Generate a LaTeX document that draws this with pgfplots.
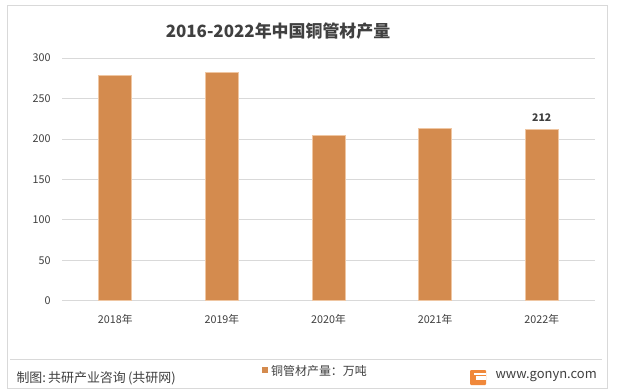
\documentclass[border=0pt]{standalone}
\usepackage{fontspec}
\setmainfont{Noto Sans CJK SC}
\usepackage{pgfplots}
\pgfplotsset{compat=1.18}
\definecolor{barc}{HTML}{D48B4E}
\definecolor{bare}{HTML}{EFC6A2}
\definecolor{gridc}{HTML}{D9D9D9}
\definecolor{txt}{HTML}{404040}
\definecolor{logoc}{HTML}{F0883A}
\begin{document}
\begin{tikzpicture}[x=1bp,y=1bp]
\path[fill=white] (0,0) rectangle (619,391);
\draw[gridc, line width=0.8bp] (7,3) rectangle (607,386);
\draw[gridc, line width=0.6bp] (10,32) -- (602,32);
\node[font=\fontsize{17}{20}\selectfont\bfseries, text=txt] at (278,360) {2016-2022年中国铜管材产量};
\begin{axis}[at={(62bp,90.3bp)}, anchor=south west, scale only axis,
  width=533bp, height=242.7bp,
  xmin=-0.5, xmax=4.5, ymin=0, ymax=300,
  ytick={0,50,...,300}, xtick={0,1,2,3,4},
  xticklabels={2018年,2019年,2020年,2021年,2022年},
  axis line style={draw=none}, major tick length=0pt,
  ymajorgrids, grid style={gridc, line width=0.8bp},
  tick label style={font=\fontsize{10.8}{12}\selectfont, text=txt},
  /pgf/number format/assume math mode=true,
  yticklabel style={xshift=-8bp},
  xticklabel style={yshift=-10bp},
  ybar, bar width=33bp, clip=false]
\addplot[fill=barc, draw=bare, line width=0.8bp] coordinates {(0,278) (1,282) (2,204) (3,213) (4,212)};
\node[anchor=south, font=\fontsize{10.5}{12}\selectfont\bfseries, text=txt, yshift=4bp] at (axis cs:4,212) {212};
\end{axis}
\node[anchor=west, font=\fontsize{13}{15}\selectfont, text=txt] at (13,13) {制图:\,共研产业咨询\,(共研网)};
\fill[barc] (262,18) rectangle (268,24);
\node[anchor=west, font=\fontsize{12}{14}\selectfont, text=txt, inner sep=1bp] at (270,20.5) {铜管材产量：万吨};
\fill[logoc, rounded corners=1bp] (470,6) rectangle (486,21);
\fill[white] (476,11) rectangle (486,15);
\fill[white] (474,16) rectangle (486,18);
\node[anchor=west, font=\fontsize{13}{15}\selectfont, text=txt] at (492,14) {www.gonyn.com};
\end{tikzpicture}
\end{document}
